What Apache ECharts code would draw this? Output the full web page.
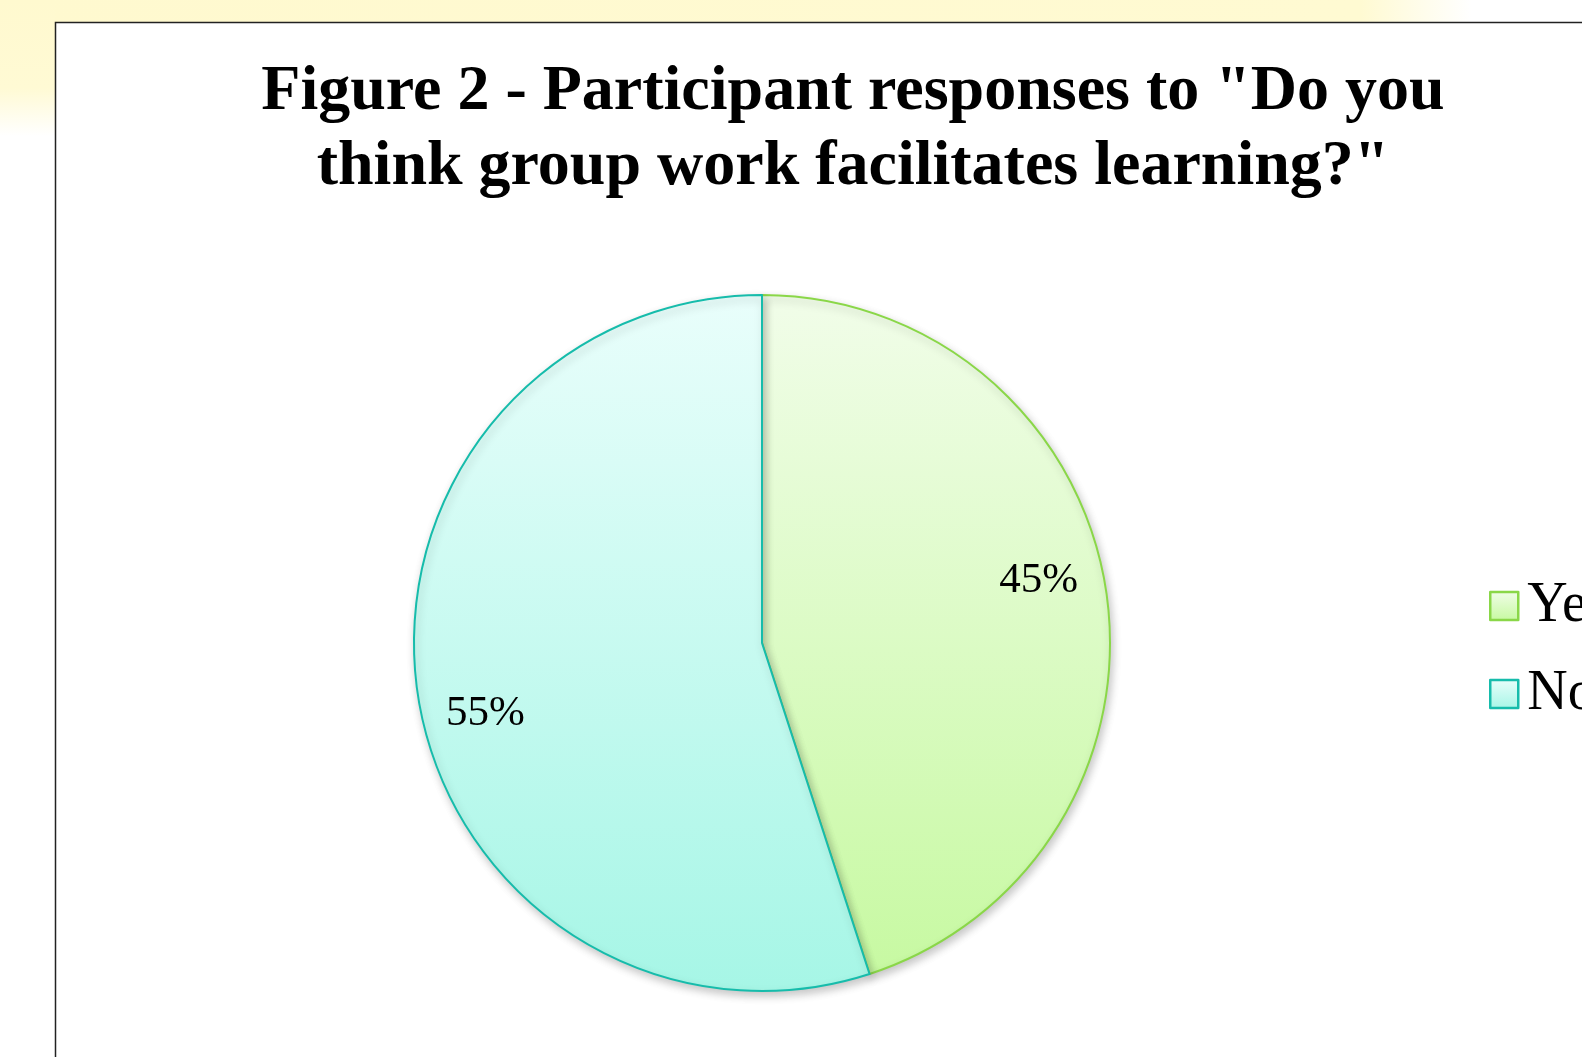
<!DOCTYPE html>
<html>
<head>
<meta charset="utf-8">
<script src="https://cdn.jsdelivr.net/npm/echarts@6/dist/echarts.min.js"></script>
<style>
html,body{margin:0;padding:0;background:#fff;}
#main{width:1582px;height:1057px;}
</style>
</head>
<body>
<div id="main"></div>
<script>
const titleText = 'Figure 2 - Participant responses to "Do you\nthink group work facilitates learning?"';
const categories = ['Yes', 'No'];
const values = [45, 55];

const fills = [
  {top: '#f1fde9', bottom: '#c6f9a0', border: '#8ad748'},
  {top: '#e9fefb', bottom: '#a6f6e6', border: '#16bcab'}
];
const pieTop = 295, pieBottom = 992;
function grad(i) {
  return {type: 'linear', x: 0, y: pieTop, x2: 0, y2: pieBottom, global: true,
    colorStops: [{offset: 0, color: fills[i].top}, {offset: 1, color: fills[i].bottom}]};
}
function localGrad(i) {
  return {type: 'linear', x: 0, y: 0, x2: 0, y2: 1,
    colorStops: [{offset: 0, color: fills[i].top}, {offset: 1, color: fills[i].bottom}]};
}

const chart = echarts.init(document.getElementById('main'), null, {renderer: 'canvas'});
const pieData = categories.map((c, i) => ({
  name: c, value: values[i],
  itemStyle: {color: grad(i), borderColor: fills[i].border, borderWidth: 2}
}));
const labelData = categories.map((c, i) => ({name: c, value: values[i]}));

chart.setOption({
  backgroundColor: '#ffffff',
  animation: false,
  graphic: [
    {type: 'rect', z: 0, shape: {x: 0, y: 0, width: 1582, height: 22},
     style: {fill: {type: 'linear', x: 0, y: 0, x2: 1, y2: 0, colorStops: [
       {offset: 0, color: '#fff9cf'}, {offset: 0.86, color: '#fffad2'}, {offset: 0.93, color: '#ffffff'}, {offset: 1, color: '#ffffff'}]}}},
    {type: 'rect', z: 0, shape: {x: 0, y: 0, width: 55, height: 160},
     style: {fill: {type: 'linear', x: 0, y: 0, x2: 0, y2: 1, colorStops: [
       {offset: 0, color: '#fff9cf'}, {offset: 0.55, color: '#fffad4'}, {offset: 0.85, color: '#ffffff'}, {offset: 1, color: '#ffffff'}]}}},
    {type: 'rect', z: 1, shape: {x: 55.5, y: 22.5, width: 1600, height: 1100},
     style: {fill: '#ffffff', stroke: '#222222', lineWidth: 1.5}}
  ],
  title: {
    text: titleText,
    left: 848,
    top: 50,
    textAlign: 'center',
    textStyle: {fontFamily: 'Liberation Serif', fontWeight: 'bold', fontSize: 64, lineHeight: 75, color: '#000'}
  },
  legend: {
    orient: 'vertical',
    left: 1484,
    top: 569,
    itemWidth: 28,
    itemHeight: 28,
    itemGap: 24,
    icon: 'rect',
    selectedMode: false,
    data: categories.map((c, i) => ({name: c, itemStyle: {color: localGrad(i), borderColor: fills[i].border, borderWidth: 2.5}})),
    textStyle: {fontFamily: 'Liberation Serif', fontSize: 56, lineHeight: 56, color: '#000', padding: [8, 0, 0, 4]}
  },
  series: [
    {
      type: 'pie',
      center: [762, 643],
      radius: [0, 348],
      startAngle: 90,
      clockwise: true,
      silent: true,
      label: {show: false},
      labelLine: {show: false},
      itemStyle: {shadowBlur: 8, shadowColor: 'rgba(0,0,0,0.22)', shadowOffsetX: 2, shadowOffsetY: 4},
      data: pieData,
      z: 2
    },
    {
      type: 'pie',
      center: [762, 643],
      radius: [215, 348],
      startAngle: 94.5,
      clockwise: true,
      silent: true,
      legendHoverLink: false,
      itemStyle: {color: 'rgba(0,0,0,0)', borderWidth: 0},
      label: {show: true, position: 'inside', formatter: '{d}%', fontFamily: 'Liberation Serif', fontSize: 43, color: '#000', offset: [0, 4]},
      labelLine: {show: false},
      data: labelData,
      z: 3
    }
  ]
});
</script>
</body>
</html>
